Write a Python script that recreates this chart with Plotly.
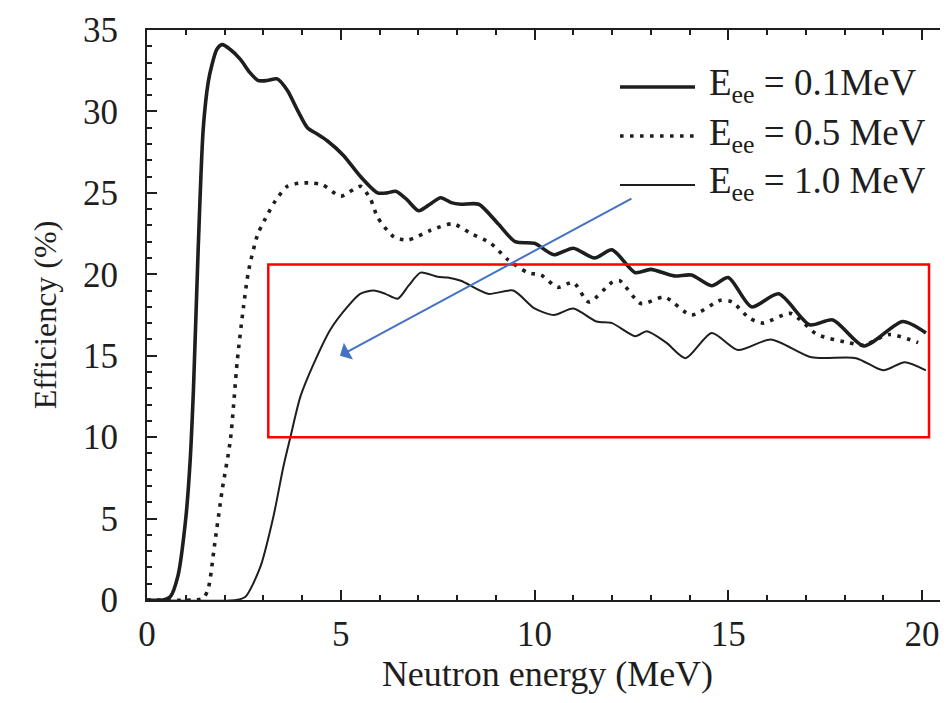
import plotly.graph_objects as go

# ---- data ----
x_01 = [0, 0.4, 0.6, 0.8, 1.0, 1.11, 1.2, 1.32, 1.45, 1.58, 1.68, 1.8, 1.94, 2.15, 2.41, 2.65, 2.87,
        3.1, 3.36, 3.62, 3.9, 4.14, 4.4, 4.65, 5.07, 5.51, 5.95, 6.2, 6.42, 6.7, 7.01, 7.3, 7.58,
        7.85, 8.1, 8.56, 9.06, 9.5, 10.0, 10.5, 11.0, 11.55, 12.0, 12.6, 13.0, 13.6, 14.05, 14.57,
        15.0, 15.6, 16.3, 17.1, 17.7, 18.5, 19.5, 20.1]
y_01 = [0, 0, 0.2, 1.5, 5.0, 8.4, 13.0, 21.5, 28.9, 31.8, 32.9, 33.8, 34.1, 33.8, 33.2, 32.4, 31.9,
        31.9, 32.0, 31.3, 30.0, 29.0, 28.6, 28.2, 27.3, 26.0, 25.0, 25.0, 25.1, 24.6, 23.9, 24.3, 24.7,
        24.4, 24.3, 24.3, 23.1, 22.0, 21.9, 21.2, 21.6, 21.0, 21.5, 20.1, 20.3, 19.9, 19.95, 19.3,
        19.8, 18.0, 18.8, 16.9, 17.2, 15.6, 17.1, 16.4]

x_05 = [0, 1.2, 1.45, 1.58, 1.75, 1.94, 2.15, 2.33, 2.49, 2.62, 2.85, 3.05, 3.31, 3.62, 3.95,
        4.27, 4.53, 5.0, 5.51, 5.77, 5.95, 6.37, 6.73, 7.32, 7.89, 8.36, 8.87, 9.31, 9.83, 10.17,
        10.6, 11.0, 11.4, 12.0, 12.2, 12.75, 13.35, 14.05, 14.8, 15.1, 15.55, 15.9, 16.6, 17.3,
        18.1, 18.5, 19.15, 19.9]
y_05 = [0, 0, 0.1, 0.7, 3.5, 6.75, 9.8, 14.7, 18.0, 20.2, 22.4, 23.4, 24.5, 25.4, 25.6,
        25.6, 25.5, 24.8, 25.4, 24.6, 23.5, 22.3, 22.1, 22.7, 23.1, 22.5, 21.9, 20.9, 20.1, 19.95,
        19.2, 19.5, 18.3, 19.5, 19.6, 18.2, 18.6, 17.5, 18.4, 18.3, 17.3, 17.0, 17.6, 16.3,
        15.8, 15.65, 16.3, 15.8]

x_10 = [0, 2.3, 2.54, 2.92, 3.26, 3.52, 3.7, 3.96, 4.3, 4.73, 5.17, 5.5, 5.85, 6.15, 6.47, 6.75,
        7.06, 7.5, 7.76, 8.1, 8.8, 9.45, 10.0, 10.5, 11.0, 11.6, 12.0, 12.6, 12.9, 13.4, 13.9,
        14.57, 15.25, 16.1, 17.15, 18.3, 19.0, 19.55, 20.1]
y_10 = [0, 0, 0.2, 2.0, 5.1, 8.2, 10.0, 12.5, 14.5, 16.6, 18.0, 18.8, 19.0, 18.8, 18.5, 19.3,
        20.1, 19.85, 19.8, 19.6, 18.8, 19.0, 17.9, 17.5, 17.9, 17.1, 17.0, 16.2, 16.5, 15.8, 14.85,
        16.4, 15.35, 16.0, 14.9, 14.85, 14.1, 14.6, 14.1]

legend_labels = ["E<sub>ee</sub> = 0.1MeV", "E<sub>ee</sub> = 0.5 MeV", "E<sub>ee</sub> = 1.0 MeV"]
x_ticks = [0, 5, 10, 15, 20]
y_ticks = [0, 5, 10, 15, 20, 25, 30, 35]
box_x = [3.13, 20.18]
box_y = [10.0, 20.6]
arrow_tail = (12.54, 24.7)
arrow_tip = (4.98, 15.0)

FONT = "Liberation Serif, Times New Roman, serif"
INK = "#1e1e1e"

fig = go.Figure()
fig.add_trace(go.Scatter(x=x_01, y=y_01, mode="lines", name=legend_labels[0],
                         line=dict(color=INK, width=3.6, shape="spline", smoothing=0.7)))
fig.add_trace(go.Scatter(x=x_05, y=y_05, mode="lines", name=legend_labels[1],
                         line=dict(color=INK, width=3.6, dash="3.6px,6.4px", shape="spline", smoothing=0.7)))
fig.add_trace(go.Scatter(x=x_10, y=y_10, mode="lines", name=legend_labels[2],
                         line=dict(color=INK, width=2.0, shape="spline", smoothing=0.7)))

# red highlight box
fig.add_shape(type="rect", xref="x", yref="y", x0=box_x[0], x1=box_x[1], y0=box_y[0], y1=box_y[1],
              line=dict(color="#ff0000", width=2.5), fillcolor="rgba(0,0,0,0)")

# blue arrow
fig.add_annotation(x=arrow_tip[0], y=arrow_tip[1], ax=arrow_tail[0], ay=arrow_tail[1],
                   xref="x", yref="y", axref="x", ayref="y", text="", showarrow=True,
                   arrowhead=1, arrowsize=1.6, arrowwidth=2, arrowcolor="#4472c4")

# manual legend (line samples + texts); positions in page pixels
PAGE_OFF = 8          # default body margin of the html page
L, T, H, W = 147, 30, 570, 801
def xp(px):
    return (px - L) / W
def yp(py):
    return (T + H - py) / H

leg_y = [87, 136, 185]
leg_dash = ["solid", "3.6px,6.4px", "solid"]
leg_w = [3.6, 3.6, 2.0]
for i in range(3):
    fig.add_shape(type="line", xref="paper", yref="paper", x0=xp(620), x1=xp(695),
                  y0=yp(leg_y[i]), y1=yp(leg_y[i]),
                  line=dict(color=INK, width=leg_w[i], dash=leg_dash[i]))
    fig.add_annotation(x=xp(707), y=yp(leg_y[i] - 1), xref="paper", yref="paper",
                       text=legend_labels[i], showarrow=False, xanchor="left", yanchor="middle",
                       font=dict(family=FONT, size=37, color=INK))

axis_common = dict(showline=True, linecolor=INK, linewidth=2, ticks="inside", ticklen=10,
                   tickwidth=2, tickcolor=INK, showgrid=False, zeroline=False,
                   tickfont=dict(family=FONT, size=35, color=INK))

fig.update_xaxes(range=[0, 20.67], tickvals=x_ticks, mirror="ticks", ticklabelstandoff=2,
                 minor=dict(ticks="inside", ticklen=5, tickwidth=1.5, tickcolor=INK, dtick=1, tick0=0,
                            showgrid=False),
                 title=dict(text="Neutron energy (MeV)", font=dict(family=FONT, size=36, color=INK),
                            standoff=0),
                 **axis_common)
fig.update_yaxes(range=[0, 35], tickvals=y_ticks, ticklabelstandoff=20,
                 minor=dict(ticks="inside", ticklen=5, tickwidth=1.5, tickcolor=INK, dtick=1, tick0=0,
                            showgrid=False),
                 title=dict(text="Efficiency (%)", font=dict(family=FONT, size=32, color=INK),
                            standoff=17),
                 **axis_common)

fig.update_layout(width=948 - PAGE_OFF, height=703 - PAGE_OFF,
                  margin=dict(l=L - PAGE_OFF, r=0, t=T - PAGE_OFF, b=703 - PAGE_OFF - (T - PAGE_OFF) - H),
                  paper_bgcolor="white", plot_bgcolor="white", showlegend=False,
                  font=dict(family=FONT, color=INK))

fig.write_html("out.html")
